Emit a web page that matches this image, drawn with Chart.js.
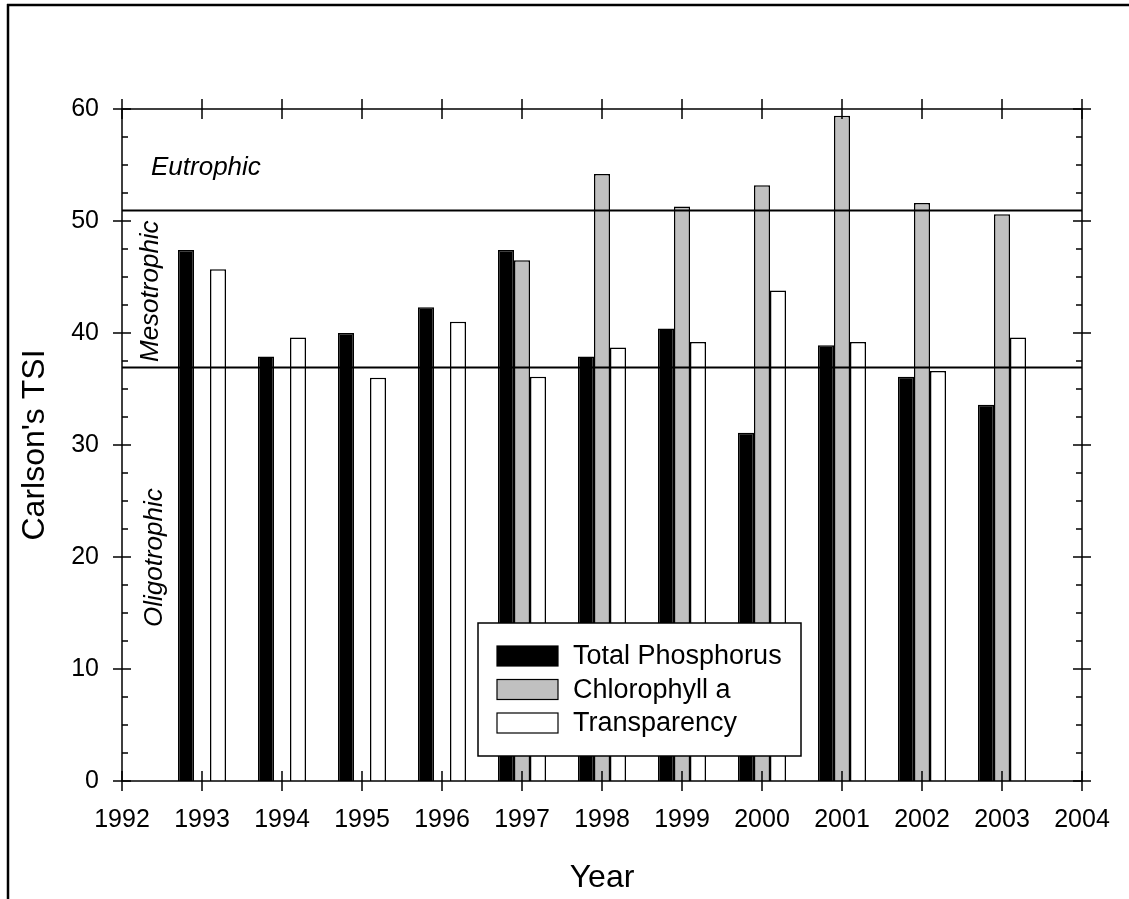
<!DOCTYPE html>
<html>
<head>
<meta charset="utf-8">
<title>Carlson's TSI by Year</title>
<script src="https://cdn.jsdelivr.net/npm/chart.js@4.4.1/dist/chart.umd.min.js"></script>
<style>
  html, body { margin: 0; padding: 0; background: #ffffff; }
  canvas { display: block; }
</style>
</head>
<body>
<canvas id="tsi" width="1129" height="899"></canvas>
<script>
// Year axis labels (1992 and 2004 only frame the axis, no data)
const years = ['1992','1993','1994','1995','1996','1997','1998','1999','2000','2001','2002','2003','2004'];

// Carlson's trophic state index per parameter
const totalPhosphorus = [null, 47.4, 37.9, 40.0, 42.3, 47.4, 37.9, 40.4, 31.1, 38.9, 36.1, 33.6, null];
const chlorophyllA    = [null, null, null, null, null, 46.5, 54.2, 51.3, 53.2, 59.4, 51.6, 50.6, null];
const transparency    = [null, 45.7, 39.6, 36.0, 41.0, 36.1, 38.7, 39.2, 43.8, 39.2, 36.6, 39.6, null];

// Y axis range and tick spacing
const yMin = 0, yMax = 60, yMajorStep = 10, yMinorStep = 2.5;

// Trophic class boundaries
const mesoLower = 37;
const eutroLower = 51;

const seriesNames = ['Total Phosphorus', 'Chlorophyll a', 'Transparency'];
const seriesFill = ['#000000', '#c0c0c0', '#ffffff'];

const FONT = '"Liberation Sans", Arial, Helvetica, sans-serif';

const decorations = {
  id: 'decorations',
  afterDatasetsDraw(chart) {
    const ctx = chart.ctx;
    const area = chart.chartArea;
    const xs = chart.scales.x;
    const ys = chart.scales.y;
    ctx.save();

    // class boundary lines
    ctx.strokeStyle = '#000';
    ctx.lineWidth = 2;
    [eutroLower, mesoLower].forEach(v => {
      const py = Math.round(ys.getPixelForValue(v)) + 0.5;
      ctx.beginPath();
      ctx.moveTo(area.left, py);
      ctx.lineTo(area.right, py);
      ctx.stroke();
    });

    // plot frame
    ctx.lineWidth = 1.5;
    ctx.strokeRect(area.left, area.top, area.right - area.left, area.bottom - area.top);

    // x ticks on bottom and top, crossing the frame
    years.forEach((y, i) => {
      const px = xs.getPixelForValue(i);
      ctx.beginPath();
      ctx.moveTo(px, area.bottom - 10); ctx.lineTo(px, area.bottom + 10);
      ctx.moveTo(px, area.top - 10); ctx.lineTo(px, area.top + 10);
      ctx.stroke();
    });

    // y ticks on left and right
    for (let v = yMin; v <= yMax + 1e-9; v += yMinorStep) {
      const py = ys.getPixelForValue(v);
      const major = Math.abs(v / yMajorStep - Math.round(v / yMajorStep)) < 1e-9;
      ctx.beginPath();
      if (major) {
        ctx.moveTo(area.left - 9, py); ctx.lineTo(area.left + 9, py);
        ctx.moveTo(area.right - 9, py); ctx.lineTo(area.right + 9, py);
      } else {
        ctx.moveTo(area.left, py); ctx.lineTo(area.left + 6, py);
        ctx.moveTo(area.right - 6, py); ctx.lineTo(area.right, py);
      }
      ctx.stroke();
    }

    // trophic class names
    ctx.fillStyle = '#000';
    ctx.font = 'italic 26px ' + FONT;
    ctx.textAlign = 'left';
    ctx.textBaseline = 'alphabetic';
    ctx.fillText('Eutrophic', area.left + 29, 175);

    ctx.save();
    ctx.translate(area.left + 36, 362);
    ctx.rotate(-Math.PI / 2);
    ctx.fillText('Mesotrophic', 0, 0);
    ctx.restore();

    ctx.save();
    ctx.translate(area.left + 40, 627);
    ctx.rotate(-Math.PI / 2);
    ctx.fillText('Oligotrophic', 0, 0);
    ctx.restore();

    // axis titles
    ctx.font = '32px ' + FONT;
    ctx.textAlign = 'center';
    ctx.fillText('Year', (area.left + area.right) / 2, 887);
    ctx.save();
    ctx.translate(44, (area.top + area.bottom) / 2);
    ctx.rotate(-Math.PI / 2);
    ctx.fillText("Carlson's TSI", 0, 0);
    ctx.restore();

    // legend
    const lx = 478, ly = 623, lw = 323, lh = 133;
    ctx.fillStyle = '#fff';
    ctx.fillRect(lx, ly, lw, lh);
    ctx.lineWidth = 1.5;
    ctx.strokeStyle = '#000';
    ctx.strokeRect(lx, ly, lw, lh);
    ctx.font = '27px ' + FONT;
    ctx.textAlign = 'left';
    ctx.textBaseline = 'middle';
    chart.data.datasets.forEach((ds, i) => {
      const cy = 656 + i * 33.5;
      ctx.fillStyle = ds.backgroundColor;
      ctx.fillRect(497, cy - 10, 61, 20);
      ctx.lineWidth = 1.2;
      ctx.strokeRect(497, cy - 10, 61, 20);
      ctx.fillStyle = '#000';
      ctx.fillText(ds.label, 573, cy + 1);
    });

    ctx.restore();
  },
  afterDraw(chart) {
    const ctx = chart.ctx;
    ctx.save();
    ctx.strokeStyle = '#000';
    ctx.lineWidth = 2.5;
    ctx.beginPath();
    ctx.moveTo(7, 5); ctx.lineTo(1129, 5);
    ctx.moveTo(8, 4); ctx.lineTo(8, 899);
    ctx.stroke();
    ctx.restore();
  }
};

const seriesData = [totalPhosphorus, chlorophyllA, transparency];

new Chart(document.getElementById('tsi'), {
  type: 'bar',
  data: {
    labels: years,
    datasets: seriesData.map((d, i) => ({
      label: seriesNames[i],
      data: d,
      backgroundColor: seriesFill[i],
      borderColor: '#000',
      borderWidth: 1.5,
      categoryPercentage: 0.6,
      barPercentage: 1.0
    }))
  },
  options: {
    responsive: false,
    devicePixelRatio: 1,
    animation: false,
    layout: { padding: { left: 0, top: 109, right: 47, bottom: 0 } },
    plugins: {
      legend: { display: false },
      tooltip: { enabled: false },
      title: { display: false }
    },
    scales: {
      x: {
        type: 'category',
        offset: false,
        grid: { display: false, drawTicks: false, offset: false },
        border: { display: false },
        ticks: {
          color: '#000',
          font: { family: FONT, size: 25 },
          padding: 24,
          maxRotation: 0,
          autoSkip: false
        },
        afterFit(scale) {
          scale.height = 118;
          scale.paddingLeft = 0;
          scale.paddingRight = 0;
        }
      },
      y: {
        min: yMin,
        max: yMax,
        grid: { display: false, drawTicks: false },
        border: { display: false },
        ticks: {
          stepSize: yMajorStep,
          color: '#000',
          font: { family: FONT, size: 25 },
          padding: 23
        },
        afterFit(scale) {
          scale.width = 122;
          scale.paddingTop = 0;
          scale.paddingBottom = 0;
        }
      }
    }
  },
  plugins: [decorations]
});
</script>
</body>
</html>
